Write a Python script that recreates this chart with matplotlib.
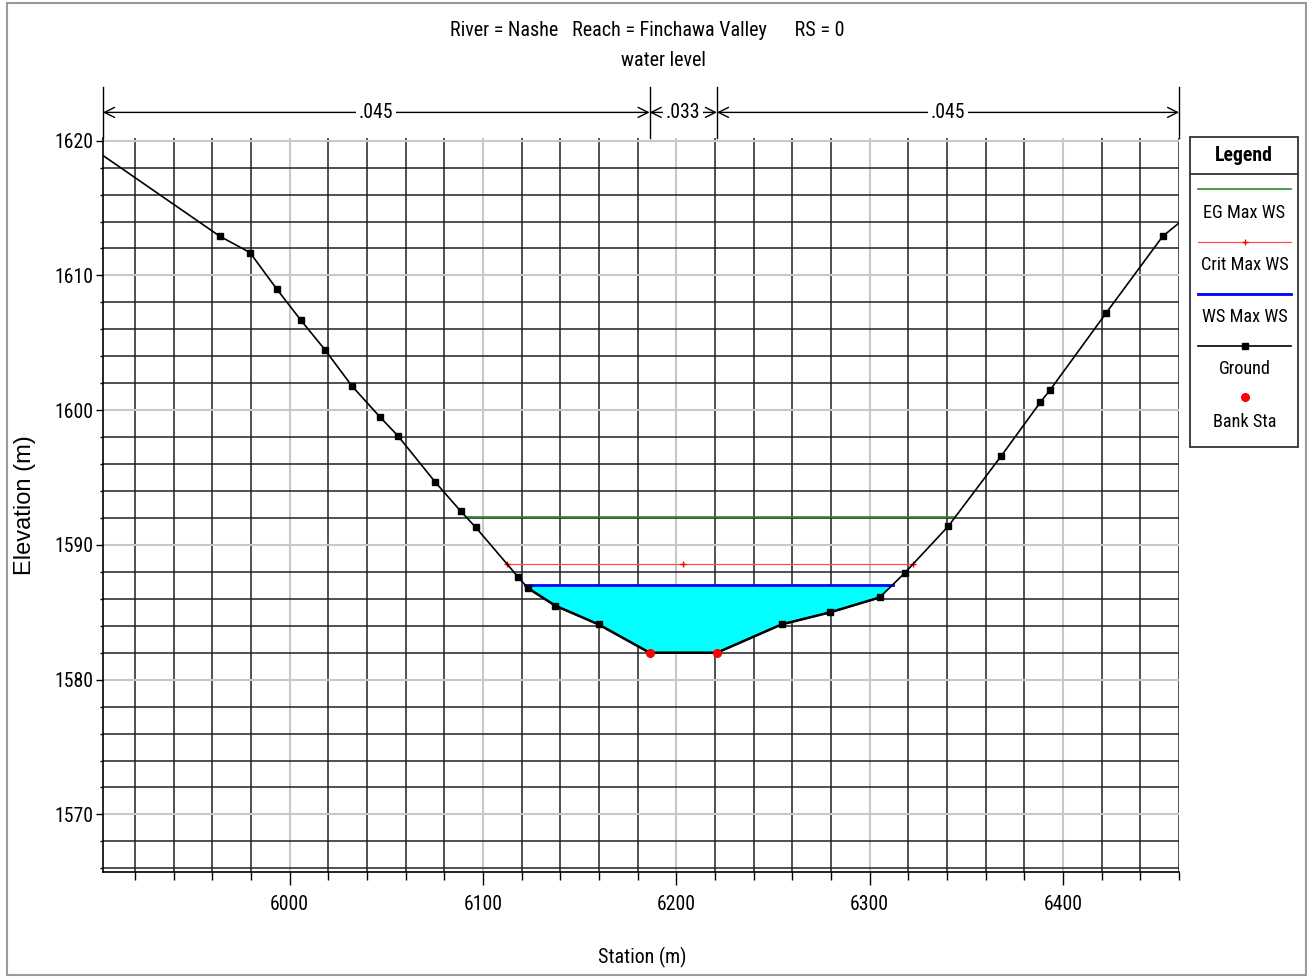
import matplotlib
matplotlib.use('Agg')
import matplotlib.pyplot as plt
import numpy as np
from matplotlib import font_manager
from matplotlib.font_manager import FontProperties
from matplotlib.patches import Rectangle
from matplotlib.textpath import TextToPath
from matplotlib.ticker import MultipleLocator

# cross section data
ground_sta = [5903.5, 5964.0, 5979.5, 5993.3, 6005.7, 6018.2, 6032.2, 6046.7, 6056.0,
              6075.1, 6088.5, 6096.3, 6118.3, 6123.2, 6137.3, 6159.8, 6186.2, 6221.0,
              6254.4, 6279.6, 6305.1, 6318.0, 6340.7, 6368.0, 6388.3, 6393.3, 6422.2,
              6451.5, 6460.0]
ground_elev = [1618.9, 1612.9, 1611.7, 1609.0, 1606.7, 1604.5, 1601.8, 1599.5, 1598.1,
               1594.7, 1592.5, 1591.3, 1587.6, 1586.8, 1585.5, 1584.1, 1582.0, 1582.0,
               1584.1, 1585.0, 1586.1, 1587.9, 1591.4, 1596.6, 1600.6, 1601.5, 1607.2,
               1612.9, 1613.9]
bank_sta = [6186.2, 6221.0]
bank_elev = [1582.0, 1582.0]
eg_elev = 1592.05
crit_elev = 1588.55
ws_elev = 1587.05
mannings_n = ['.045', '.033', '.045']
legend_labels = ['EG Max WS', 'Crit Max WS', 'WS Max WS', 'Ground', 'Bank Sta']
title = 'River = Nashe   Reach = Finchawa Valley      RS = 0'

# the reference uses a tall, narrow face: pick the narrowest one installed
names = {f.name for f in font_manager.fontManager.ttflist}
fam, stretch = 'Liberation Sans', 'normal'
for cand in ['Liberation Sans Narrow', 'Arial Narrow', 'Roboto Condensed',
             'Open Sans Condensed', 'Noto Sans Condensed']:
    if cand in names:
        fam = cand
        break
else:
    if any(f.name == 'DejaVu Sans' and f.stretch == 'condensed'
           for f in font_manager.fontManager.ttflist):
        fam, stretch = 'DejaVu Sans', 'condensed'
plt.rcParams['font.family'] = [fam, 'Liberation Sans', 'DejaVu Sans']
plt.rcParams['font.stretch'] = stretch

t2p = TextToPath()


def fit(text, width_px, cap=18.0, weight='normal'):
    # font size (pt) that makes text about width_px wide at 100 dpi
    fp = FontProperties(family=fam, stretch=stretch, weight=weight, size=10)
    w = t2p.get_text_width_height_descent(text, fp, ismath=False)[0] * 100 / 72
    return min(cap, 10 * width_px / w)


tick_fs = fit('6200', 39)
title_fs = fit(title, 393)
legend_fs = fit('Crit Max WS', 88)
head_fs = fit('Legend', 58, weight='bold')

W, H = 1307, 977
fig = plt.figure(figsize=(W / 100, H / 100), dpi=100)
ax = fig.add_axes([103 / W, 1 - 871.7 / H, (1179.1 - 103) / W, (871.7 - 138) / H])

gs = np.array(ground_sta)
ge = np.array(ground_elev)
imin = int(np.argmin(ge))


def crossings(level):
    # where a water level meets the left and right banks
    left = np.interp(level, ge[:imin + 1][::-1], gs[:imin + 1][::-1])
    right = np.interp(level, ge[imin + 1:], gs[imin + 1:])
    return left, right


# wetted area
wl, wr = crossings(ws_elev)
inside = (gs > wl) & (gs < wr)
xs = np.concatenate([[wl], gs[inside], [wr]])
ys = np.concatenate([[ws_elev], ge[inside], [ws_elev]])
ax.fill_between(xs, ys, ws_elev, color='#00ffff', lw=0, zorder=2)
ax.plot([wl, wr], [ws_elev, ws_elev], color='#0000ff', lw=2, zorder=3)

# energy grade
el, er = crossings(eg_elev)
ax.plot([el, er], [eg_elev, eg_elev], color='#2a8a2a', lw=1.2, zorder=3)

# critical depth
cl, cr = crossings(crit_elev)
cmid = (bank_sta[0] + bank_sta[1]) / 2
ax.plot([cl, cr], [crit_elev, crit_elev], color='#ff5050', lw=0.9, zorder=3)
ax.plot([cl, cmid, cr], [crit_elev] * 3, ls='none', marker='+', ms=5, mew=1,
        color='#ff0000', zorder=4)

# ground
marks = [i for i in range(1, len(gs) - 1) if gs[i] not in bank_sta]
ax.plot(gs, ge, color='black', lw=1.2, zorder=4)
ax.plot(xs[1:-1], ys[1:-1], color='black', lw=1.8, zorder=4)
ax.plot(gs[marks], ge[marks], ls='none', marker='s', ms=4, color='black', zorder=5)
ax.plot(bank_sta, bank_elev, ls='none', marker='o', ms=5.5, color='#ff0000', zorder=6)

ax.set_xlim(ground_sta[0], ground_sta[-1])
ax.set_ylim(1565.75, 1620.2)
ax.xaxis.set_major_locator(MultipleLocator(100))
ax.xaxis.set_minor_locator(MultipleLocator(20))
ax.yaxis.set_major_locator(MultipleLocator(10))
ax.yaxis.set_minor_locator(MultipleLocator(2))
ax.grid(which='major', color='#c8c8c8', lw=1.5)
ax.grid(which='minor', color='#202020', lw=1.1)
ax.set_axisbelow(True)
for s in ['top', 'right']:
    ax.spines[s].set_visible(False)
ax.spines['left'].set_linewidth(1.2)
ax.spines['bottom'].set_linewidth(1.2)
ax.tick_params(axis='x', which='major', length=9, width=1, labelsize=tick_fs, pad=8)
ax.tick_params(axis='x', which='minor', length=6, width=1)
ax.tick_params(axis='y', which='major', length=5, width=1, labelsize=tick_fs, pad=2)
ax.tick_params(axis='y', which='minor', length=2.5, width=1)

ax.set_xlabel('Station (m)', fontsize=title_fs)
ax.xaxis.set_label_coords(0.501, -0.1163)
ax.xaxis.label.set_va('center')
ax.set_ylabel('Elevation (m)', fontsize=17, family=['Liberation Sans', 'DejaVu Sans'],
              stretch='normal')
ax.yaxis.set_label_coords(-0.0725, 0.5)
ax.yaxis.label.set_va('center')

# Manning's n bar above the plot
y_arr = 1622.1
bounds = [ground_sta[0], bank_sta[0], bank_sta[1], ground_sta[-1]]
for i in range(3):
    ax.annotate('', xy=(bounds[i], y_arr), xytext=(bounds[i + 1], y_arr),
                arrowprops=dict(arrowstyle='<->', color='black', lw=1,
                                shrinkA=0, shrinkB=0, mutation_scale=18),
                annotation_clip=False)
    ax.text((bounds[i] + bounds[i + 1]) / 2, y_arr, mannings_n[i], ha='center',
            va='center', fontsize=tick_fs, zorder=6, clip_on=False,
            bbox=dict(fc='white', ec='none', pad=2))
for b in bounds:
    ax.plot([b, b], [1620.2, 1624.0], color='black', lw=1, clip_on=False)

fig.text(647 / W, 1 - 30 / H, title, ha='center', va='center', fontsize=title_fs)
fig.text(663 / W, 1 - 60 / H, 'water level', ha='center', va='center', fontsize=title_fs)

# legend box
lx0, lx1, ly0, ly1 = 1190, 1298.3, 137.3, 446.7
lax = fig.add_axes([lx0 / W, 1 - ly1 / H, (lx1 - lx0) / W, (ly1 - ly0) / H])
lax.set_xlim(lx0, lx1)
lax.set_ylim(ly1, ly0)
lax.axis('off')
lax.add_patch(Rectangle((lx0, ly0), lx1 - lx0, ly1 - ly0, fill=False, ec='#333333',
                        lw=1.3, clip_on=False))
lax.plot([lx0, lx1], [174.3, 174.3], color='#333333', lw=1.3, clip_on=False)
lax.text((lx0 + lx1) / 2, 155.5, 'Legend', ha='center', va='center',
         fontsize=head_fs, fontweight='bold')
sx0, sx1 = 1198, 1291
xm = (sx0 + sx1) / 2
lax.plot([sx0, sx1], [189.3, 189.3], color='#2a8a2a', lw=1.2)
lax.plot([sx0, sx1], [241.7, 241.7], color='#ff5050', lw=0.9)
lax.plot([xm], [241.7], marker='+', ms=5, mew=1, color='#ff0000')
lax.plot([sx0, sx1], [294, 294], color='#0000ff', lw=2)
lax.plot([sx0, sx1], [346, 346], color='black', lw=1.2)
lax.plot([xm], [346], marker='s', ms=4, color='black')
lax.plot([xm], [396.7], marker='o', ms=5.5, color='#ff0000')
for lab, yy in zip(legend_labels, [213, 265, 317.3, 369.3, 421.7]):
    lax.text(xm, yy, lab, ha='center', va='center', fontsize=legend_fs)

# frame round the whole picture
fig.add_artist(Rectangle((7 / W, 2 / H), (1306 - 7) / W, (H - 5) / H,
                         transform=fig.transFigure, fill=False, ec='#9a9a9a', lw=1.5))

fig.savefig('out.png', dpi=100)
